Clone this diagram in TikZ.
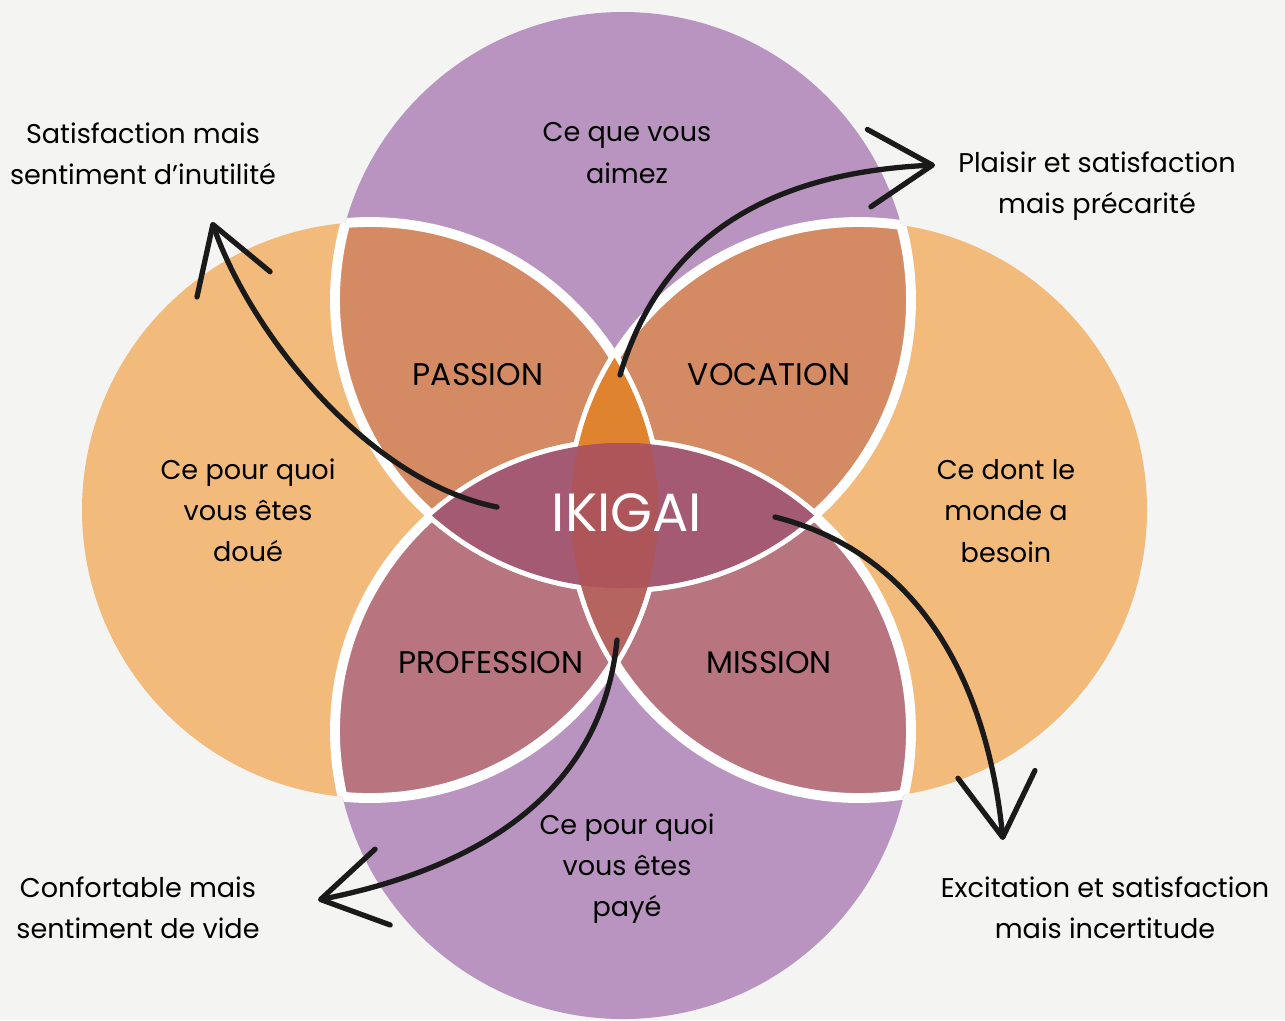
\documentclass[tikz,border=0pt]{standalone}
\usepackage{fontspec}
\setmainfont{Poppins}
\usetikzlibrary{arrows.meta}

\definecolor{paper}{HTML}{F4F4F3}
\definecolor{lilac}{HTML}{B994C0}
\definecolor{apricot}{HTML}{F2BB7B}
\definecolor{terracotta}{HTML}{D48A62}
\definecolor{rosewood}{HTML}{B87580}
\definecolor{amber}{HTML}{E0832F}
\definecolor{brick}{HTML}{B5645F}
\definecolor{plum}{HTML}{A55A74}
\definecolor{heart}{HTML}{AD5558}
\definecolor{ink}{HTML}{1A1A1A}

\newcommand{\circR}{288}

\begin{document}
\begin{tikzpicture}[
        x=0.01cm, y=-0.01cm,
        ring/.style={draw=white, line width=2.8pt},
        label/.style={font=\fontsize{7.7}{11.7}\selectfont, align=center, text=black},
        zone/.style={font=\fontsize{8.9}{10}\selectfont, text=black},
        sweep/.style={draw=ink, line width=1.5pt, line cap=round,
            -{Straight Barb[length=18pt, width=22pt, round]}}
    ]

    % Background page
    \useasboundingbox (0,0) rectangle (1285,1020);
    \fill[paper] (0,0) rectangle (1285,1020);

    % Circle centres
    \coordinate (love) at (623,300);
    \coordinate (paid) at (623,731);
    \coordinate (skill) at (370,510);
    \coordinate (need) at (859,510);

    % Big circles
    \fill[lilac] (love) circle (\circR);
    \fill[lilac] (paid) circle (\circR);
    \fill[apricot] (skill) circle (\circR);
    \fill[apricot] (need) circle (\circR);

    % Overlaps of two circles
    \begin{scope}
        \clip (love) circle (\circR);
        \fill[terracotta] (skill) circle (\circR);
        \fill[terracotta] (need) circle (\circR);
    \end{scope}
    \begin{scope}
        \clip (paid) circle (\circR);
        \fill[rosewood] (skill) circle (\circR);
        \fill[rosewood] (need) circle (\circR);
    \end{scope}

    % White rims where circles overlap
    \foreach \a/\b in {love/skill, love/need, love/paid, paid/skill, paid/need, paid/love,
                       skill/love, skill/paid, skill/need, need/love, need/paid, need/skill} {
        \begin{scope}
            \clip (\b) circle (\circR);
            \draw[ring] (\a) circle (\circR);
        \end{scope}
    }

    % Lens between the two side circles
    \begin{scope}
        \clip (skill) circle (\circR);
        \clip (need) circle (\circR);
        \fill[amber] (love) circle (\circR);
        \fill[brick] (paid) circle (\circR);
    \end{scope}

    % Lens between top and bottom, and the heart
    \begin{scope}
        \clip (love) circle (\circR);
        \fill[plum] (paid) circle (\circR);
        \clip (skill) circle (\circR);
        \clip (need) circle (\circR);
        \fill[heart] (paid) circle (\circR);
    \end{scope}

    % Texts in the circles
    \node[label] (loveText) at (627,153) {Ce que vous\\aimez};
    \node[label] (skillText) at (248,510) {Ce pour quoi\\vous êtes\\doué};
    \node[label] (needText) at (1006,511) {Ce dont le\\monde a\\besoin};
    \node[label] (paidText) at (627,869) {Ce pour quoi\\vous êtes\\payé};

    \node[zone] (passion) at (478,375) {PASSION};
    \node[zone] (vocation) at (769,375) {VOCATION};
    \node[zone] (profession) at (491,663) {PROFESSION};
    \node[zone] (mission) at (769,663) {MISSION};
    \node[font=\fontsize{15.3}{17}\selectfont, text=white] (ikigai) at (627,513) {IKIGAI};

    % Texts outside
    \node[label] (useless) at (143,154) {Satisfaction mais\\sentiment d'inutilité};
    \node[label] (precarious) at (1097,186) {Plaisir et satisfaction\\mais précarité};
    \node[label] (empty) at (138,908) {Confortable mais\\sentiment de vide};
    \node[label] (uncertain) at (1105,908) {Excitation et satisfaction\\mais incertitude};

    % Arrows from the heart outwards
    \coordinate (uselessStart) at (497,507);
    \coordinate (uselessTip) at (212,222);
    \coordinate (precariousStart) at (620,375);
    \coordinate (precariousTip) at (935,165);
    \coordinate (uncertainStart) at (775,517);
    \coordinate (uncertainTip) at (1003,840);
    \coordinate (emptyStart) at (617,640);
    \coordinate (emptyTip) at (318,900);

    \draw[sweep] (uselessStart) .. controls (367,481) and (250,332) .. (uselessTip);
    \draw[sweep] (precariousStart) .. controls (665,225) and (785,172) .. (precariousTip);
    \draw[sweep] (uncertainStart) .. controls (925,555) and (988,690) .. (uncertainTip);
    \draw[sweep] (emptyStart) .. controls (601,800) and (468,870) .. (emptyTip);

\end{tikzpicture}
\end{document}
